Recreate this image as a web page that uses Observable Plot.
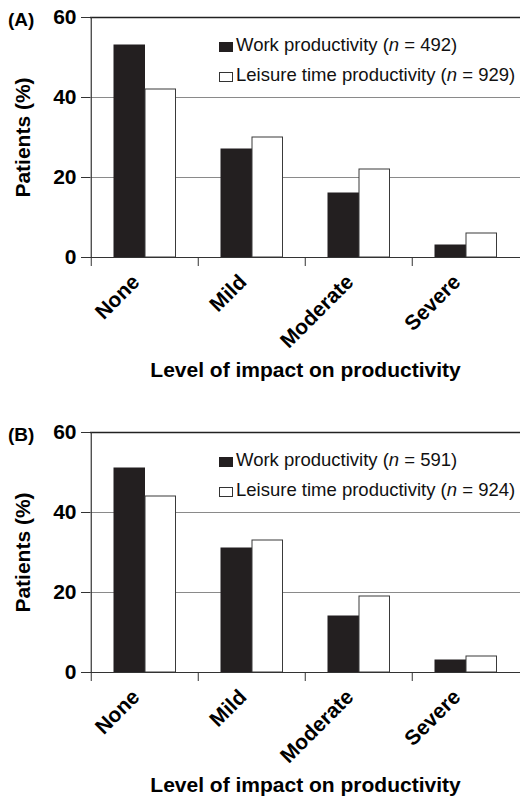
<!DOCTYPE html>
<html><head><meta charset="utf-8">
<script src="https://cdn.jsdelivr.net/npm/d3@7"></script>
<script src="https://cdn.jsdelivr.net/npm/@observablehq/plot@0.6"></script>
<style>
body{margin:0;background:#fff;font-family:"Liberation Sans",Arial,Helvetica,sans-serif;color:#000}
.panel{position:relative;width:520px;overflow:visible}
.plabel{position:absolute;left:8px;top:10px;font-size:19px;font-weight:bold;line-height:1}
.leg{position:absolute;left:236px;font-size:18.5px;line-height:1;white-space:nowrap;color:#111}
.sw{position:absolute;left:219px;width:14px;height:10px;box-sizing:border-box}
</style></head><body><div id="chart"></div>
<script>
const levels = ["None", "Mild", "Moderate", "Severe"];
const workA = [53, 27, 16, 3];
const leisureA = [42, 30, 22, 6];
const workB = [51, 31, 14, 3];
const leisureB = [44, 33, 19, 4];
const yTicks = [0, 20, 40, 60];
const panelLabels = ["(A)", "(B)"];
const nWork = [492, 591];
const nLeisure = [929, 924];
const xLabel = "Level of impact on productivity";
const yLabel = "Patients (%)";

const works = [workA, workB];
const leisures = [leisureA, leisureB];
const heights = [415, 383];
const W = 520, ML = 90, MT = 17, AXIS0 = 257;
const FONT = "'Liberation Sans', Arial, Helvetica, sans-serif";

function drawPanel(i) {
  const H = heights[i];
  const step = (W - ML) / levels.length;
  const rows = levels.map((level, j) => ({level, work: works[i][j], leisure: leisures[i][j]}));
  const plot = Plot.plot({
    width: W, height: H,
    marginLeft: ML, marginRight: 0, marginTop: MT, marginBottom: H - AXIS0,
    style: {fontFamily: FONT, background: "white", color: "#000", overflow: "visible"},
    x: {type: "band", domain: levels, padding: 0},
    y: {domain: [0, 60]},
    marks: [
      Plot.ruleY([20, 40], {stroke: "#8a8a8a", strokeWidth: 1}),
      Plot.ruleY([60], {stroke: "#222", strokeWidth: 1.6}),
      Plot.barY(rows, {x: "level", y: "work", insetLeft: 23, insetRight: step - 54, fill: "#231f20", stroke: "#231f20", strokeWidth: 1}),
      Plot.barY(rows, {x: "level", y: "leisure", insetLeft: 54, insetRight: step - 85, fill: "#fff", stroke: "#3a3a3a", strokeWidth: 1}),
      Plot.ruleY([0], {stroke: "#333", strokeWidth: 1.2}),
      Plot.ruleX([levels[0]], {x: d => d, dx: -step / 2, stroke: "#333", strokeWidth: 1.2}),
      Plot.axisX({tickSize: 9, tickFormat: () => "", dx: -step / 2, stroke: "#333", label: null}),
      Plot.axisY({ticks: yTicks, tickSize: 9, tickPadding: 5, fontSize: 21, fontWeight: "bold", stroke: "#333", label: null}),
      Plot.text(levels, {x: d => d, frameAnchor: "bottom", rotate: -45, textAnchor: "end", lineAnchor: "middle", dx: -9, dy: 21, fontSize: 21, fontWeight: "bold"}),
      Plot.text([xLabel], {text: d => d, frameAnchor: "bottom", dy: 112.5, textAnchor: "middle", lineAnchor: "middle", fontSize: 21, fontWeight: "bold"}),
      Plot.text([yLabel], {text: d => d, frameAnchor: "left", dx: -67, rotate: -90, textAnchor: "middle", lineAnchor: "middle", fontSize: 21, fontWeight: "bold"})
    ]
  });
  const div = document.createElement("div");
  div.className = "panel";
  div.style.height = H + "px";
  div.appendChild(plot);
  div.insertAdjacentHTML("beforeend",
    `<div class="plabel">${panelLabels[i]}</div>
     <div class="sw" style="top:42px;background:#231f20;"></div>
     <div class="leg" style="top:36px;">Work productivity (<i>n</i> = ${nWork[i]})</div>
     <div class="sw" style="top:72px;background:#fff;border:1px solid #333;"></div>
     <div class="leg" style="top:66px;">Leisure time productivity (<i>n</i> = ${nLeisure[i]})</div>`);
  document.getElementById("chart").appendChild(div);
}
drawPanel(0);
drawPanel(1);
</script></body></html>
